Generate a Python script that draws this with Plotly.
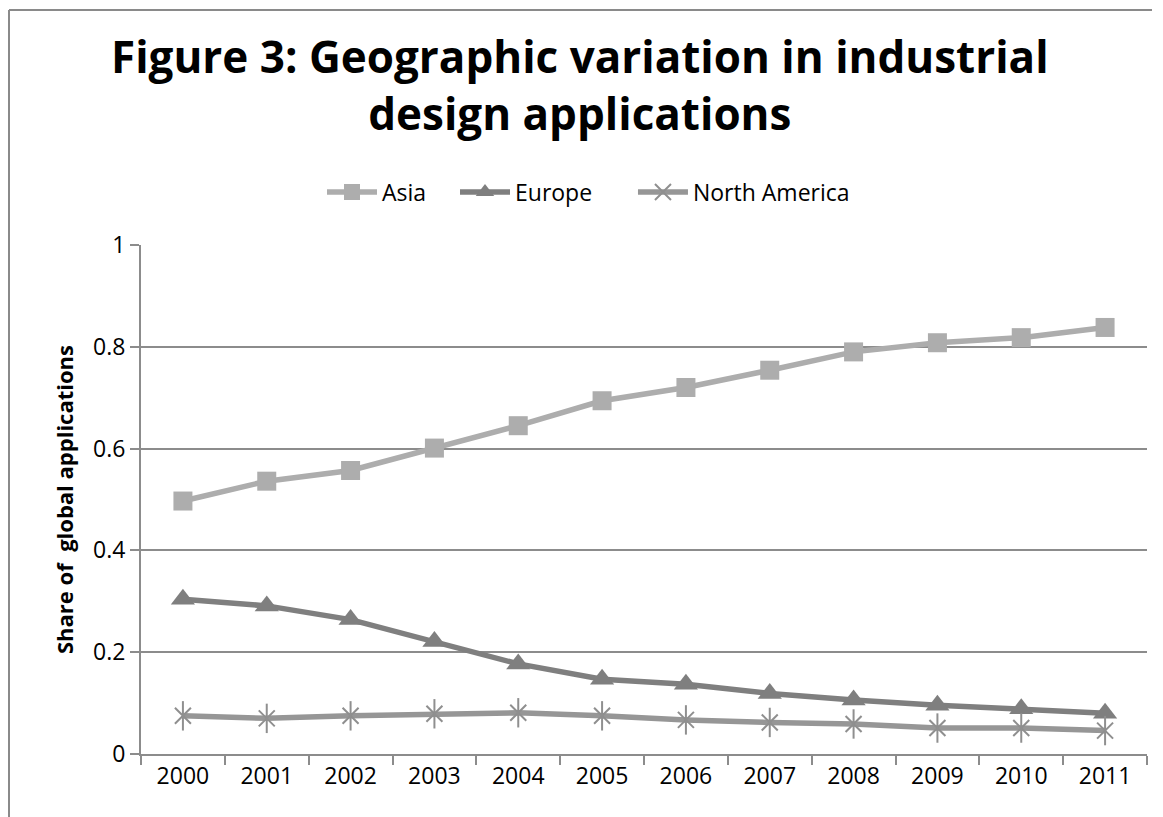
import plotly.graph_objects as go

years = ["2000", "2001", "2002", "2003", "2004", "2005", "2006", "2007", "2008", "2009", "2010", "2011"]
asia = [0.497, 0.536, 0.557, 0.601, 0.645, 0.694, 0.720, 0.754, 0.790, 0.808, 0.818, 0.838]
europe = [0.304, 0.291, 0.264, 0.221, 0.177, 0.147, 0.137, 0.119, 0.106, 0.096, 0.089, 0.080]
north_america = [0.075, 0.070, 0.075, 0.079, 0.081, 0.075, 0.067, 0.062, 0.059, 0.051, 0.051, 0.046]
y_ticks = [0, 0.2, 0.4, 0.6, 0.8, 1]
title_text = "Figure 3: Geographic variation in industrial<br>design applications"

FONT = "Open Sans"
GRID = "#8c8c8c"
OFF = 8  # page body margin offset

W, H = 1163 - OFF, 817 - OFF
PL, PR, PT, PB = 141, 1147, 245, 754  # plot area in screenshot pixels


def px_x(x):
    return (x - PL) / (PR - PL)


def px_y(y):
    return (PB - y) / (PB - PT)


fig = go.Figure()
fig.add_trace(go.Scatter(
    x=years, y=asia, name="Asia    ", mode="lines+markers",
    line=dict(color="#adadad", width=5.5),
    marker=dict(symbol="square", size=19, color="#adadad"),
))
fig.add_trace(go.Scatter(
    x=years, y=europe, name="Europe      ", mode="lines+markers",
    line=dict(color="#7f7f7f", width=5.5),
    marker=dict(symbol="triangle-up", size=21, color="#7f7f7f"),
))
fig.add_trace(go.Scatter(
    x=years, y=north_america, name="North America", mode="lines+markers",
    line=dict(color="#969696", width=5.5),
    marker=dict(symbol="x-thin-open", size=16, color="#8f8f8f",
                line=dict(color="#8f8f8f", width=2)),
))
fig.add_trace(go.Scatter(
    x=years, y=north_america, mode="markers", showlegend=False, hoverinfo="skip",
    marker=dict(symbol="line-ns-open", size=21, color="#8f8f8f",
                line=dict(color="#8f8f8f", width=2)),
))

fig.update_layout(
    width=W, height=H,
    margin=dict(l=PL - OFF, r=W - (PR - OFF), t=PT - OFF, b=H - (PB - OFF)),
    paper_bgcolor="white", plot_bgcolor="white",
    font=dict(family=FONT, color="black", size=23),
    legend=dict(
        orientation="h", x=px_x(322), xanchor="left", y=px_y(192), yanchor="middle",
        font=dict(family=FONT, size=23), bgcolor="rgba(0,0,0,0)", itemwidth=50,
    ),
    showlegend=True,
)
fig.add_annotation(
    text=f"<b>{title_text}</b>", xref="paper", yref="paper",
    x=px_x(580), y=px_y(84), xanchor="center", yanchor="middle",
    showarrow=False, font=dict(family=FONT, size=44, color="black"),
)
fig.update_xaxes(
    type="category", tickson="boundaries", ticks="outside", ticklen=9,
    tickcolor=GRID, tickwidth=2, showline=True, linecolor=GRID, linewidth=2,
    showgrid=False, tickfont=dict(family=FONT, size=23), range=[-0.5, 11.5],
)
fig.update_yaxes(
    range=[0, 1], tickvals=y_ticks, ticktext=[f"{v:g}" for v in y_ticks],
    ticks="outside", ticklen=9, tickcolor=GRID, tickwidth=2,
    showline=True, linecolor=GRID, linewidth=2,
    showgrid=True, gridcolor=GRID, gridwidth=2, zeroline=False,
    tickfont=dict(family=FONT, size=23),
)
fig.add_annotation(
    text="<b>Share of  global applications</b>", textangle=-90,
    xref="paper", yref="paper", x=px_x(64), y=px_y(500),
    xanchor="center", yanchor="middle", showarrow=False,
    font=dict(family=FONT, size=22, color="black"),
)
# outer chart border (top and left visible)
fig.add_shape(type="line", xref="paper", yref="paper",
              x0=px_x(9), x1=px_x(1152), y0=px_y(10), y1=px_y(10),
              line=dict(color="#8a8a8a", width=2))
fig.add_shape(type="line", xref="paper", yref="paper",
              x0=px_x(9), x1=px_x(9), y0=px_y(10), y1=px_y(840),
              line=dict(color="#8a8a8a", width=2))

fig.write_html("out.html")
